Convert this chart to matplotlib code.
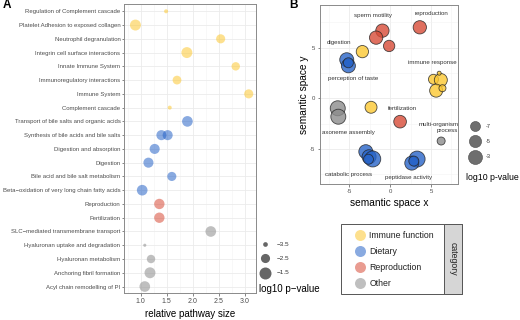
import numpy as np
import matplotlib
matplotlib.use("Agg")
import matplotlib.pyplot as plt
from matplotlib.patches import Rectangle
from matplotlib.ticker import MultipleLocator

plt.rcParams['font.family'] = ['Liberation Sans', 'DejaVu Sans']
plt.rcParams['axes.unicode_minus'] = False

# ---- panel A data (top to bottom) ----
rows = ["Regulation of Complement cascade", "Platelet Adhesion to exposed collagen",
        "Neutrophil degranulation", "Integrin cell surface interactions",
        "Innate Immune System", "Immunoregulatory interactions", "Immune System",
        "Complement cascade", "Transport of bile salts and organic acids",
        "Synthesis of bile acids and bile salts", "Digestion and absorption",
        "Digestion", "Bile acid and bile salt metabolism",
        "Beta\u2212oxidation of very long chain fatty acids", "Reproduction",
        "Fertilization", "SLC\u2212mediated transmembrane transport",
        "Hyaluronan uptake and degradation", "Hyaluronan metabolism",
        "Anchoring fibril formation", "Acyl chain remodelling of PI"]
pathway = rows[:10] + [rows[9]] + rows[10:]
rel_size = [1.49, 0.90, 2.54, 1.89, 2.83, 1.70, 3.08, 1.56, 1.90, 1.40, 1.52,
            1.27, 1.15, 1.60, 1.03, 1.36, 1.36, 2.35, 1.08, 1.20, 1.18, 1.08]
pval_a = [-3.6, -1.9, -2.5, -1.9, -2.7, -2.6, -2.5, -3.6, -2.0, -2.2, -2.2,
          -2.2, -2.2, -2.5, -2.0, -2.1, -2.1, -2.0, -3.7, -2.7, -1.9, -2.0]
cat_a = ["Immune function"] * 8 + ["Dietary"] * 7 + ["Reproduction"] * 2 + ["Other"] * 5

categories = ["Immune function", "Dietary", "Reproduction", "Other"]
cat_colors = {"Immune function": "#FCC832", "Dietary": "#2864C8",
              "Reproduction": "#D74B37", "Other": "#8C8C8C"}

# ---- panel B data ----
sem_x = [-0.94, -1.71, -0.12, 3.63, 1.22,
         -3.39, -2.33, 5.3, 6.2, 6.0, 5.63, 6.4,
         -5.3, -5.1, -5.1, -2.97, -2.57, -2.12, -2.65, 3.3, 2.65, 2.9,
         -6.4, -6.33, 6.24]
sem_y = [6.67, 5.98, 5.16, 7.0, -2.31,
         4.6, -0.89, 1.87, 1.8, 2.47, 0.75, 0.99,
         3.8, 3.2, 3.5, -5.27, -5.77, -5.99, -6.02, -6.0, -6.4, -6.2,
         -0.99, -1.82, -4.22]
pval_b = [-3.8, -3.8, -5.8, -3.8, -4.5,
          -4.9, -5.2, -7.0, -4.1, -10.5, -4.1, -9.1,
          -3.0, -3.0, -7.0, -3.0, -3.0, -0.5, -7.0, -0.5, -3.0, -7.0,
          -1.8, -1.8, -8.5]
cat_b = ["Reproduction"] * 5 + ["Immune function"] * 7 + ["Dietary"] * 10 + ["Other"] * 3

term_labels = ["sperm motility", "reproduction", "digestion", "perception of taste",
               "immune response", "fertilization", "multi-organism\nprocess",
               "axoneme assembly", "catabolic process", "peptidase activity"]
term_x = [-2.04, 5.1, -6.24, -4.57, 5.22, 1.55, 8.35, -5.1, -5.02, 2.24]
term_y = [8.13, 8.32, 5.53, 1.94, 3.55, -1.06, -2.9, -3.4, -7.57, -7.8]

legend_a = [-3.5, -2.5, -1.5]
legend_b = [-7, -5, -3]


def size_a(v):
    d = np.sqrt(np.clip(22 + 61 * (np.asarray(v) + 3.5), 4, None))
    return (d * 0.72) ** 2


def size_b(v):
    d = np.sqrt(np.clip(268 + 24 * np.asarray(v), 9, None))
    return (d * 0.72) ** 2


def style_axes(ax, ticksize, pad):
    ax.set_facecolor('white')
    ax.grid(True, which='major', color='#EBEBEB', linewidth=0.6)
    ax.grid(True, which='minor', color='#F3F3F3', linewidth=0.4)
    ax.set_axisbelow(True)
    for s in ax.spines.values():
        s.set_color('#8A8A8A')
        s.set_linewidth(0.7)
    ax.tick_params(which='major', length=1.8, width=0.5, color='#555555',
                   labelsize=ticksize, labelcolor='#4D4D4D', pad=pad)
    ax.tick_params(which='minor', length=0)


fig = plt.figure(figsize=(5.2, 3.2), dpi=100)

# ---- panel A ----
axA = fig.add_axes([124 / 520, 1 - 293 / 320, 132 / 520, 289 / 320])
style_axes(axA, 5, 0.8)
ya = [rows.index(p) for p in pathway]
axA.scatter(rel_size, ya, s=size_a(pval_a), c=[cat_colors[c] for c in cat_a],
            alpha=0.55, linewidths=0, zorder=3)
axA.set_yticks(range(len(rows)))
axA.set_yticklabels(rows, fontsize=4.35)
axA.set_ylim(len(rows) - 1 + 0.47, -0.53)
axA.set_xlim(0.68, 3.22)
axA.xaxis.set_minor_locator(MultipleLocator(0.25))
axA.set_xticks([1.0, 1.5, 2.0, 2.5, 3.0])
axA.tick_params(axis='x', pad=1.5)
axA.set_xlabel('relative pathway size', fontsize=7, labelpad=3)

# ---- panel B ----
axB = fig.add_axes([320 / 520, 1 - 184.3 / 320, 138 / 520, 179.3 / 320])
style_axes(axB, 4.3, 1.5)
axB.scatter(sem_x, sem_y, s=size_b(pval_b), c=[cat_colors[c] for c in cat_b],
            alpha=0.8, edgecolors='#222222', linewidths=0.6, zorder=3)
for lab, tx, ty in zip(term_labels, term_x, term_y):
    ha = 'right' if '\n' in lab else 'center'
    axB.text(tx, ty, lab, fontsize=4.4, color='#333333', ha=ha, va='center',
             linespacing=1.3, zorder=4, clip_on=False)
axB.set_xlim(-8.57, 8.3)
axB.set_ylim(-8.49, 9.2)
axB.xaxis.set_major_locator(MultipleLocator(5))
axB.xaxis.set_minor_locator(MultipleLocator(2.5))
axB.yaxis.set_major_locator(MultipleLocator(5))
axB.yaxis.set_minor_locator(MultipleLocator(2.5))
axB.set_xlabel('semantic space x', fontsize=7.3, labelpad=3)
axB.set_ylabel('semantic space y', fontsize=7.3, labelpad=1)

# ---- overlay in pixel coordinates for legends and panel tags ----
ov = fig.add_axes([0, 0, 1, 1])
ov.set_xlim(0, 520)
ov.set_ylim(320, 0)
ov.axis('off')

ov.text(6.5, 5, 'A', fontsize=8.5, fontweight='bold', ha='center', va='center')
ov.text(293, 5, 'B', fontsize=8.5, fontweight='bold', ha='center', va='center')

# size legend A
for i, v in enumerate(legend_a):
    ov.scatter(265, 244 + 14.3 * i, s=size_a(v), c='#666666', linewidths=0)
    ov.text(277, 244 + 14.3 * i, '\u2212' + f'{abs(v):.1f}', fontsize=4.6,
            color='#333333', va='center')
ov.text(259, 289, 'log10 p\u2212value', fontsize=7, va='center')

# size legend B
for i, v in enumerate(legend_b):
    ov.scatter(475, 126 + 15.3 * i, s=size_b(v), c='#6E6E6E',
               edgecolors='#4A4A4A', linewidths=0.4)
    ov.text(486, 126 + 15.3 * i, str(v), fontsize=4, color='#333333', va='center')
ov.text(466, 177, 'log10 p-value', fontsize=6.3, va='center')

# category legend
ov.add_patch(Rectangle((341, 224), 120.7, 70, facecolor='white',
                       edgecolor='#555555', linewidth=0.7))
ov.add_patch(Rectangle((444.3, 224), 17.4, 70, facecolor='#D6D6D6',
                       edgecolor='#555555', linewidth=0.7))
ov.text(453, 259, 'category', fontsize=6.3, rotation=270, ha='center',
        va='center', color='#222222')
for i, c in enumerate(categories):
    ov.scatter(360, 235 + 16.1 * i, s=(11 * 0.72) ** 2, c=cat_colors[c],
               alpha=0.55, linewidths=0)
    ov.text(369.3, 235 + 16.1 * i, c, fontsize=6.3, color='#222222', va='center')

fig.savefig('out.png', dpi=100)
